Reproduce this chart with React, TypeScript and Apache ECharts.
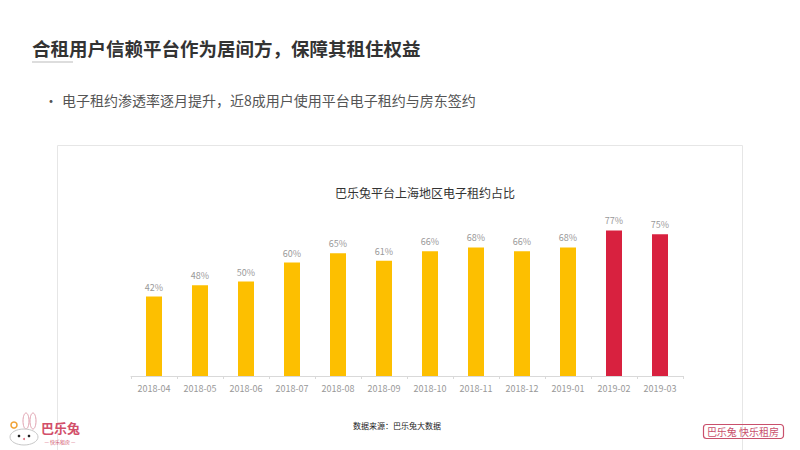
import React, { useEffect, useRef } from "react";
import * as echarts from "echarts";

const categories = [
  "2018-04", "2018-05", "2018-06", "2018-07", "2018-08", "2018-09",
  "2018-10", "2018-11", "2018-12", "2019-01", "2019-02", "2019-03",
];
const values = [42, 48, 50, 60, 65, 61, 66, 68, 66, 68, 77, 75];
const highlighted = ["2019-02", "2019-03"];

const pageTitle = "合租用户信赖平台作为居间方，保障其租住权益";
const bulletText = "电子租约渗透率逐月提升，近8成用户使用平台电子租约与房东签约";
const chartTitle = "巴乐兔平台上海地区电子租约占比";
const sourceText = "数据来源：巴乐兔大数据";

const FONT = '"Noto Sans CJK SC", "Noto Sans", sans-serif';
const GOLD = "#FDBF00";
const RED = "#D8213F";
const PINK = "#C9506C";

export default function App() {
  const ref = useRef<HTMLDivElement>(null);
  useEffect(() => {
    if (!ref.current) return;
    const chart = echarts.init(ref.current, undefined, { renderer: "svg" });
    chart.setOption({
      animation: false,
      backgroundColor: "#ffffff",
      textStyle: { fontFamily: FONT },
      grid: { left: 131, right: 117, top: 187, bottom: 74 },
      xAxis: {
        type: "category",
        data: categories,
        axisLine: { lineStyle: { color: "#d9d9d9" } },
        axisTick: { show: true, length: 3, lineStyle: { color: "#d9d9d9" } },
        axisLabel: { color: "#999", fontSize: 9, margin: 8, fontFamily: FONT },
      },
      yAxis: { type: "value", min: 0, max: 100, show: false, splitLine: { show: false } },
      series: [
        {
          type: "bar",
          barWidth: 16,
          data: values.map((v, i) => ({
            value: v,
            itemStyle: { color: highlighted.includes(categories[i]) ? RED : GOLD },
          })),
          label: {
            show: true,
            position: "top",
            distance: 5,
            formatter: "{c}%",
            color: "#999",
            fontSize: 9,
            fontFamily: FONT,
          },
        },
      ],
      graphic: [
        {
          type: "rect",
          shape: { x: 57.5, y: 145.5, width: 685, height: 320 },
          style: { fill: "none", stroke: "#e6e6e6", lineWidth: 1 },
          z: -1,
        },
        {
          type: "text",
          x: 32,
          y: 48,
          style: {
            text: pageTitle,
            font: `bold 18.5px ${FONT}`,
            fill: "#333",
            verticalAlign: "middle",
          },
        },
        {
          type: "line",
          shape: { x1: 32, y1: 62, x2: 73, y2: 62 },
          style: { stroke: "#bbbbbb", lineWidth: 1 },
        },
        {
          type: "text",
          x: 44,
          y: 100,
          style: { text: "•", font: `14px ${FONT}`, fill: "#555", verticalAlign: "middle" },
        },
        {
          type: "text",
          x: 62,
          y: 100,
          style: { text: bulletText, font: `14px ${FONT}`, fill: "#555", verticalAlign: "middle" },
        },
        {
          type: "text",
          x: 425,
          y: 192,
          style: {
            text: chartTitle,
            font: `12px ${FONT}`,
            fill: "#333",
            align: "center",
            verticalAlign: "middle",
          },
        },
        {
          type: "text",
          x: 353,
          y: 425,
          style: { text: sourceText, font: `8px ${FONT}`, fill: "#222", verticalAlign: "middle" },
        },
        // bottom-left logo
        {
          type: "group",
          children: [
            { type: "ellipse", shape: { cx: 26, cy: 421, rx: 3, ry: 8 }, style: { fill: "#fff", stroke: "#e0a0ae", lineWidth: 1 } },
            { type: "ellipse", shape: { cx: 33, cy: 421, rx: 3, ry: 8 }, style: { fill: "#fff", stroke: "#e0a0ae", lineWidth: 1 } },
            { type: "ellipse", shape: { cx: 24, cy: 437, rx: 14, ry: 8 }, style: { fill: "#fff", stroke: "#c8c8c8", lineWidth: 1 } },
            { type: "circle", shape: { cx: 19, cy: 436, r: 1.3 }, style: { fill: "#222" } },
            { type: "circle", shape: { cx: 29, cy: 436, r: 1.3 }, style: { fill: "#222" } },
            { type: "circle", shape: { cx: 24, cy: 439, r: 1 }, style: { fill: "#e07080" } },
            { type: "circle", shape: { cx: 14, cy: 425, r: 3 }, style: { fill: "none", stroke: "#f0a030", lineWidth: 1.5 } },
            {
              type: "text",
              x: 41,
              y: 427,
              style: { text: "巴乐兔", font: `bold 13px ${FONT}`, fill: "#D24F6A", verticalAlign: "middle" },
            },
            {
              type: "text",
              x: 60,
              y: 441,
              style: {
                text: "— 快乐租房 —",
                font: `5px ${FONT}`,
                fill: "#D24F6A",
                align: "center",
                verticalAlign: "middle",
              },
            },
          ],
        },
        // bottom-right logo
        {
          type: "rect",
          shape: { x: 703.5, y: 424.5, width: 80, height: 14, r: 3 },
          style: { fill: "none", stroke: PINK, lineWidth: 1.2 },
          z: 10,
        },
        {
          type: "text",
          x: 743,
          y: 431.5,
          z: 11,
          style: {
            text: "巴乐兔 快乐租房",
            font: `10px ${FONT}`,
            fill: PINK,
            align: "center",
            verticalAlign: "middle",
          },
        },
      ],
    });
    return () => chart.dispose();
  }, []);
  return (
    <div
      ref={ref}
      style={{ position: "absolute", left: 0, top: 0, width: 800, height: 450 }}
    />
  );
}
